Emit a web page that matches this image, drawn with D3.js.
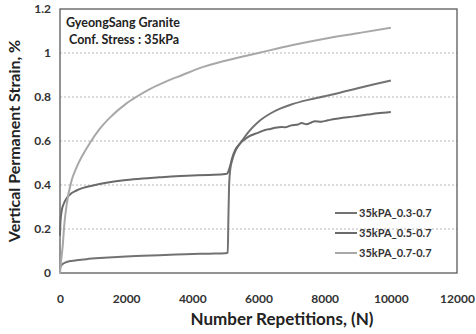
<!DOCTYPE html>
<html>
<head>
<meta charset="utf-8">
<script src="https://cdn.jsdelivr.net/npm/d3@7"></script>
<style>
    body { margin: 0; background: #fff; }
    svg { font-family: Lato, 'Open Sans', sans-serif; }
</style>
</head>
<body>
<script>
const seriesNames = ['35kPA_0.3-0.7', '35kPA_0.5-0.7', '35kPA_0.7-0.7'];
const seriesColors = ['#727272', '#6a6a6a', '#a8a8a8'];

// 0.3 -> 0.7 stress ratio
const repsA = [0, 20, 50, 100, 200, 350, 500, 800, 1200, 1600, 2000, 2500, 3000, 3500, 4000, 4500, 5000,
    5070, 5090, 5110, 5150, 5200, 5250, 5350, 5450, 5700, 6000, 6360, 6670, 6970, 7500, 8000, 8400,
    9000, 9500, 10000];
const strainA = [0.02, 0.03, 0.037, 0.043, 0.05, 0.055, 0.058, 0.063, 0.068, 0.072, 0.075, 0.078, 0.081, 0.084, 0.086, 0.088, 0.09,
    0.092, 0.25, 0.39, 0.476, 0.51, 0.536, 0.568, 0.59, 0.642, 0.688, 0.725, 0.748, 0.765, 0.787, 0.803, 0.817,
    0.84, 0.858, 0.875];

// 0.5 -> 0.7 stress ratio
const repsB = [0, 10, 30, 60, 100, 200, 300, 500, 700, 1000, 1400, 2000, 2500, 3000, 3500, 4000, 4500, 5000,
    5050, 5150, 5200, 5300, 5450, 5700, 6000, 6200, 6360, 6500, 6700, 6800, 6970, 7200, 7300, 7450, 7600,
    7700, 7900, 8100, 8300, 8500, 8700, 9000, 9300, 9600, 10000];
const strainB = [0.17, 0.22, 0.26, 0.29, 0.31, 0.34, 0.357, 0.375, 0.387, 0.398, 0.41, 0.423, 0.43, 0.435, 0.44, 0.443, 0.446, 0.45,
    0.452, 0.49, 0.52, 0.56, 0.59, 0.62, 0.638, 0.65, 0.655, 0.66, 0.664, 0.662, 0.67, 0.675, 0.682, 0.676, 0.684,
    0.69, 0.688, 0.694, 0.70, 0.705, 0.708, 0.714, 0.72, 0.726, 0.732];

// 0.7 -> 0.7 stress ratio
const repsC = [0, 30, 80, 130, 200, 350, 500, 700, 900, 1200, 1500, 2000, 2300, 2700, 3200, 3700, 4200, 5000,
    6000, 7000, 8000, 9000, 10000];
const strainC = [0, 0.05, 0.12, 0.22, 0.31, 0.42, 0.48, 0.54, 0.59, 0.655, 0.705, 0.77, 0.80, 0.835, 0.87, 0.90, 0.93, 0.965,
    1.0, 1.035, 1.065, 1.09, 1.115];

const xTicks = [0, 2000, 4000, 6000, 8000, 10000, 12000];
const yTicks = [0, 0.2, 0.4, 0.6, 0.8, 1, 1.2];

const width = 476, height = 334;
const margin = { top: 9, right: 19, bottom: 61, left: 60 };

const svg = d3.select('body')
    .append('svg')
    .attr('width', width)
    .attr('height', height);

const xScale = d3.scaleLinear()
    .domain([0, 12000])
    .range([margin.left, width - margin.right]);

const yScale = d3.scaleLinear()
    .domain([0, 1.2])
    .range([height - margin.bottom, margin.top]);

// grid
svg.append('g')
    .selectAll('line')
    .data(yTicks.slice(1, -1))
    .enter()
    .append('line')
    .attr('x1', xScale(0))
    .attr('x2', xScale(12000))
    .attr('y1', d => yScale(d))
    .attr('y2', d => yScale(d))
    .attr('stroke', '#b8b8b8')
    .attr('stroke-width', 1)
    .attr('stroke-dasharray', '2,2');

// axes (labels only, no tick marks)
const xAxis = d3.axisBottom(xScale).tickValues(xTicks).tickSize(0).tickPadding(21)
    .tickFormat(d3.format('d'));
const yAxis = d3.axisLeft(yScale).tickValues(yTicks).tickSize(0).tickPadding(9)
    .tickFormat(d => String(+d.toFixed(1)));

svg.append('g')
    .attr('transform', `translate(0, ${yScale(0)})`)
    .call(xAxis)
    .call(g => g.select('.domain').remove());

svg.append('g')
    .attr('transform', `translate(${xScale(0)}, 0)`)
    .call(yAxis)
    .call(g => g.select('.domain').remove());

svg.selectAll('.tick text')
    .attr('font-family', 'Lato, sans-serif')
    .attr('font-size', 12)
    .attr('font-weight', 'bold')
    .attr('fill', '#333');

// frame
svg.append('rect')
    .attr('x', xScale(0))
    .attr('y', yScale(1.2))
    .attr('width', xScale(12000) - xScale(0))
    .attr('height', yScale(0) - yScale(1.2))
    .attr('fill', 'none')
    .attr('stroke', '#5a5a5a')
    .attr('stroke-width', 1.3);

// curves
const series = [
    { reps: repsA, strain: strainA },
    { reps: repsB, strain: strainB },
    { reps: repsC, strain: strainC }
];

const line = d3.line()
    .x(d => xScale(d[0]))
    .y(d => yScale(d[1]))
    .curve(d3.curveMonotoneX);

series.forEach((s, i) => {
    svg.append('path')
        .datum(d3.zip(s.reps, s.strain))
        .attr('d', line)
        .attr('fill', 'none')
        .attr('stroke', seriesColors[i])
        .attr('stroke-width', 2)
        .attr('stroke-linejoin', 'round');
});

// annotation
svg.append('text')
    .attr('x', 66)
    .attr('y', 27)
    .attr('font-size', 12.5)
    .attr('font-weight', 'bold')
    .attr('fill', '#222')
    .text('GyeongSang Granite');

svg.append('text')
    .attr('x', 69)
    .attr('y', 44)
    .attr('font-size', 12.5)
    .attr('font-weight', 'bold')
    .attr('fill', '#222')
    .text('Conf. Stress : 35kPa');

// legend
const legend = svg.append('g')
    .selectAll('g')
    .data(seriesNames)
    .enter()
    .append('g')
    .attr('transform', (d, i) => `translate(335, ${213 + i * 20})`);

legend.append('line')
    .attr('x1', 0)
    .attr('x2', 22)
    .attr('stroke', (d, i) => seriesColors[i])
    .attr('stroke-width', 2);

legend.append('text')
    .attr('x', 24)
    .attr('y', 4)
    .attr('font-size', 11)
    .attr('font-weight', 'bold')
    .attr('fill', '#333')
    .text(d => d);

// axis titles
svg.append('text')
    .attr('x', 282)
    .attr('y', 325)
    .attr('text-anchor', 'middle')
    .attr('font-size', 17)
    .attr('font-weight', 'bold')
    .attr('fill', '#222')
    .text('Number Repetitions, (N)');

svg.append('text')
    .attr('transform', `translate(20, ${(yScale(0) + yScale(1.2)) / 2}) rotate(-90)`)
    .attr('text-anchor', 'middle')
    .attr('font-size', 16)
    .attr('font-weight', 'bold')
    .attr('fill', '#222')
    .text('Vertical Permanent Strain, %');
</script>
</body>
</html>
